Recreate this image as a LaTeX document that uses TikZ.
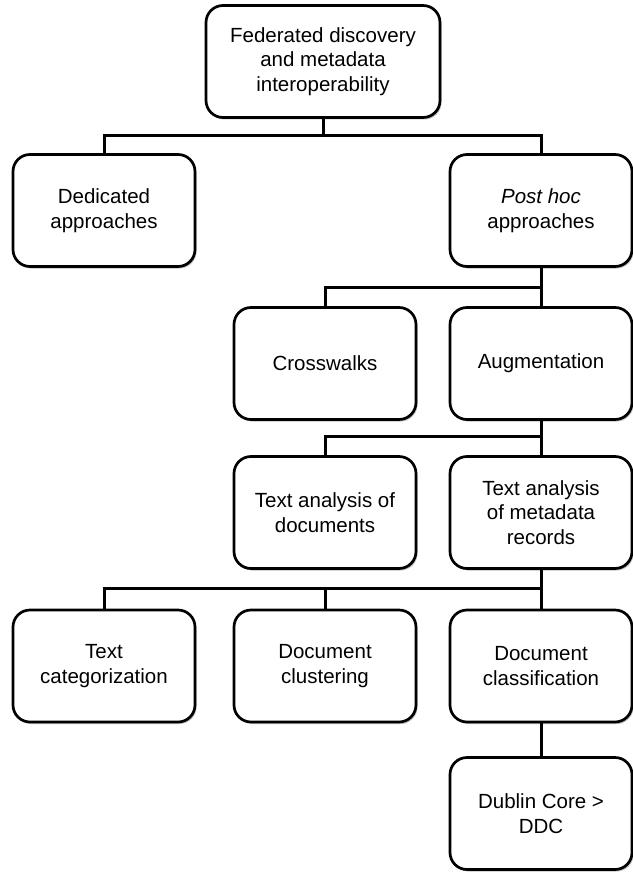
\documentclass[tikz,border=0pt]{standalone}
\usepackage{fontspec}
\setmainfont{Liberation Sans}
\usetikzlibrary{shadows}

\begin{document}
\begin{tikzpicture}[x=1pt,y=1pt]
  \tikzstyle{box}=[draw=black, line width=2.7pt, rounded corners=17pt, fill=white,
    minimum width=182pt, minimum height=112pt, align=center, inner sep=2pt,
    font=\fontsize{20.5}{24.5}\selectfont,
    drop shadow={shadow xshift=1.5pt, shadow yshift=-2pt, fill=black, opacity=0.25}]
  \tikzstyle{conn}=[draw=black, line width=3pt]
  \useasboundingbox (0,0) rectangle (632,-872);
  % boxes, row by row
  \node [box, minimum width=234pt] (fed) at (323,-61.5) {Federated discovery\\and metadata\\interoperability};
  \node [box] (ded) at (104,-210.5) {Dedicated\\approaches};
  \node [box] (post) at (541,-210.5) {\textit{Post hoc}\\approaches};
  \node [box] (cross) at (325,-363.5) {Crosswalks};
  \node [box] (aug) at (541,-363.5) {Augmentation};
  \node [box] (tadoc) at (325,-512.5) {Text analysis of\\documents};
  \node [box] (tameta) at (541,-512.5) {Text analysis\\of metadata\\records};
  \node [box] (tcat) at (104,-666) {Text\\categorization};
  \node [box] (dclus) at (325,-666) {Document\\clustering};
  \node [box] (dclass) at (541,-666) {Document\\classification};
  \node [box] (dcddc) at (541,-813.5) {Dublin Core >\\DDC};
  % bus levels
  \coordinate (bus1) at (0,-135);
  \coordinate (bus2) at (0,-287);
  \coordinate (bus3) at (0,-436.5);
  \coordinate (bus4) at (0,-588.5);
  % connectors
  \draw [conn] (fed.south) -- (fed.south |- bus1);
  \draw [conn] (ded.north) -- (ded.north |- bus1) -- (post.north |- bus1) -- (post.north);
  \draw [conn] (post.south) -- (aug.north);
  \draw [conn] (cross.north) -- (cross.north |- bus2) -- (post.south |- bus2);
  \draw [conn] (aug.south) -- (tameta.north);
  \draw [conn] (tadoc.north) -- (tadoc.north |- bus3) -- (aug.south |- bus3);
  \draw [conn] (tameta.south) -- (dclass.north);
  \draw [conn] (tcat.north) -- (tcat.north |- bus4) -- (tameta.south |- bus4);
  \draw [conn] (dclus.north) -- (dclus.north |- bus4);
  \draw [conn] (dclass.south) -- (dcddc.north);
\end{tikzpicture}
\end{document}
